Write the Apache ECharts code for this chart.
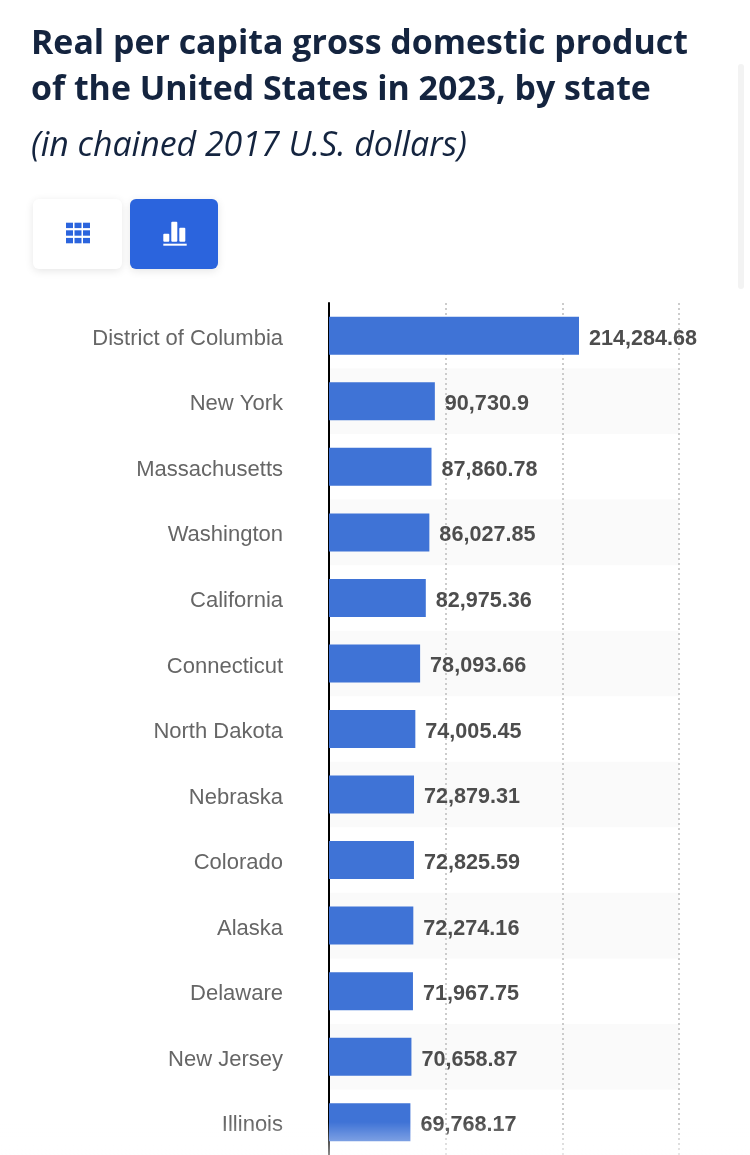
<!DOCTYPE html>
<html>
<head>
<meta charset="utf-8">
<title>Real per capita GDP by state</title>
<script src="https://cdn.jsdelivr.net/npm/echarts@6/dist/echarts.min.js"></script>
<style>
  html, body { margin: 0; padding: 0; background: #fff; }
  #chart { width: 750px; height: 1155px; }
</style>
</head>
<body>
<div id="chart"></div>
<script>
const states = ['District of Columbia', 'New York', 'Massachusetts', 'Washington', 'California', 'Connecticut',
  'North Dakota', 'Nebraska', 'Colorado', 'Alaska', 'Delaware', 'New Jersey', 'Illinois'];
const gdpValues = [214284.68, 90730.9, 87860.78, 86027.85, 82975.36, 78093.66,
  74005.45, 72879.31, 72825.59, 72274.16, 71967.75, 70658.87, 69768.17];

const blue = '#2b64dd';

let chart = echarts.init(document.getElementById('chart'), null, { renderer: 'canvas' });

// toolbar icons, 3x3 table grid and small bars
let tableIcon = [];
for (let r = 0; r < 3; r++) {
  for (let c = 0; c < 3; c++) {
    tableIcon.push({
      type: 'rect',
      shape: { x: 66 + c * 8.5, y: 222.7 + r * 7.6, width: 7, height: 5.4 },
      style: { fill: blue }
    });
  }
}

let option = {
  animation: false,
  title: [{
    text: 'Real per capita gross domestic product\nof the United States in 2023, by state',
    left: 26,
    top: 16,
    textStyle: { fontFamily: 'Open Sans', fontWeight: 700, fontSize: 33.9, lineHeight: 46, color: '#14243f' }
  }, {
    text: '(in chained 2017 U.S. dollars)',
    left: 26,
    top: 124,
    textStyle: { fontFamily: 'Open Sans', fontStyle: 'italic', fontWeight: 400, fontSize: 33.9, color: '#14243f' }
  }],
  grid: { left: 329, top: 303, width: 350, height: 852 },
  xAxis: {
    type: 'value',
    min: 0,
    max: 300000,
    interval: 100000,
    axisLabel: { show: false },
    axisLine: { show: false },
    axisTick: { show: false },
    splitLine: { show: true, lineStyle: { type: [2, 3], color: '#cccccc', width: 2 } }
  },
  yAxis: {
    type: 'category',
    inverse: true,
    data: states,
    axisLine: { show: true, lineStyle: { color: '#000', width: 2 } },
    axisTick: { show: false },
    axisLabel: {
      margin: 46,
      formatter: '{name|{value}}',
      rich: {
        // nudges the names down to sit level with the value labels
        name: { padding: [6, 0, 0, 0], fontFamily: 'Liberation Sans', fontSize: 22, color: '#666' }
      }
    },
    splitArea: { show: true, areaStyle: { color: ['rgba(255,255,255,0)', '#fafafa'] } }
  },
  series: [{
    type: 'bar',
    data: gdpValues,
    barWidth: 38,
    itemStyle: { color: '#3f73d6' },
    label: {
      show: true,
      position: 'right',
      distance: 10,
      offset: [0, 3],
      fontFamily: 'Liberation Sans',
      fontWeight: 'bold',
      fontSize: 21.6,
      color: '#4d4d4d',
      formatter: function (p) {
        return p.value.toLocaleString('en-US', { maximumFractionDigits: 2 });
      }
    }
  }],
  graphic: [{
    type: 'rect',
    shape: { x: 33, y: 199, width: 89, height: 70, r: 6 },
    style: { fill: '#fff', shadowBlur: 8, shadowColor: 'rgba(0,0,0,0.1)', shadowOffsetY: 2 }
  }, {
    type: 'rect',
    shape: { x: 130, y: 199, width: 88, height: 70, r: 6 },
    style: { fill: blue, shadowBlur: 8, shadowColor: 'rgba(0,0,0,0.1)', shadowOffsetY: 2 }
  }, {
    type: 'group',
    children: tableIcon
  }, {
    type: 'group',
    children: [
      { type: 'rect', shape: { x: 163.3, y: 233.7, width: 6, height: 8, r: 1 }, style: { fill: '#fff' } },
      { type: 'rect', shape: { x: 171.3, y: 221.7, width: 6, height: 20, r: 1 }, style: { fill: '#fff' } },
      { type: 'rect', shape: { x: 179.3, y: 227.7, width: 6, height: 14, r: 1 }, style: { fill: '#fff' } },
      { type: 'rect', shape: { x: 163.3, y: 243.7, width: 23.4, height: 2 }, style: { fill: '#fff' } }
    ]
  }, {
    // scrollbar strip
    type: 'rect',
    shape: { x: 738, y: 64, width: 6, height: 225, r: 3 },
    style: { fill: '#f3f3f3' }
  }, {
    // fade out at the bottom edge
    type: 'rect',
    z: 100,
    shape: { x: 0, y: 1122, width: 750, height: 33 },
    style: {
      fill: new echarts.graphic.LinearGradient(0, 0, 0, 1, [
        { offset: 0, color: 'rgba(255,255,255,0)' },
        { offset: 1, color: 'rgba(255,255,255,0.55)' }
      ])
    }
  }]
};

chart.setOption(option);
</script>
</body>
</html>
